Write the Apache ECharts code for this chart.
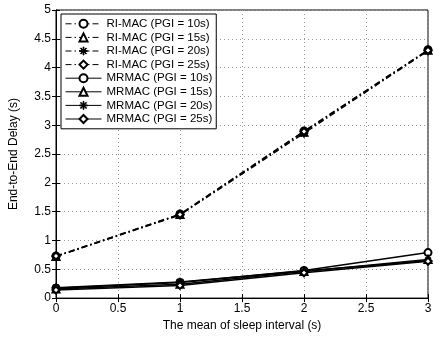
<!DOCTYPE html>
<html>
<head>
<meta charset="utf-8" />
<script src="https://cdn.jsdelivr.net/npm/echarts@6/dist/echarts.min.js"></script>
</head>
<body style="margin:0">
<div id="chart" style="width:441px;height:337px;"></div>
<script>
var sleepMean = [0, 1, 2, 3];
var names = [
  'RI-MAC (PGI = 10s)', 'RI-MAC (PGI = 15s)', 'RI-MAC (PGI = 20s)', 'RI-MAC (PGI = 25s)',
  'MRMAC (PGI = 10s)', 'MRMAC (PGI = 15s)', 'MRMAC (PGI = 20s)', 'MRMAC (PGI = 25s)'
];
var rimac10 = [0.73, 1.46, 2.90, 4.31];
var rimac15 = [0.72, 1.45, 2.88, 4.30];
var rimac20 = [0.72, 1.44, 2.86, 4.29];
var rimac25 = [0.73, 1.45, 2.89, 4.30];
var mrmac10 = [0.17, 0.27, 0.48, 0.79];
var mrmac15 = [0.16, 0.24, 0.46, 0.67];
var mrmac20 = [0.18, 0.28, 0.47, 0.65];
var mrmac25 = [0.14, 0.22, 0.44, 0.64];
var values = [rimac10, rimac15, rimac20, rimac25, mrmac10, mrmac15, mrmac20, mrmac25];

// asterisk marker made of thin bars
var star = 'path://M9,0 L11,0 L11,20 L9,20 Z M0,9 L20,9 L20,11 L0,11 Z M2.2,3.6 L3.6,2.2 L17.8,16.4 L16.4,17.8 Z M16.4,2.2 L17.8,3.6 L3.6,17.8 L2.2,16.4 Z';
var symbols = ['emptyCircle', 'emptyTriangle', star, 'emptyDiamond'];

var series = [];
for (var i = 0; i < values.length; i++) {
  var ri = i < 4;
  series.push({
    name: names[i],
    type: 'line',
    data: sleepMean.map(function (x, j) { return [x, values[i][j]]; }),
    symbol: symbols[i % 4],
    symbolSize: i % 4 === 2 ? 8 : 7,
    lineStyle: { color: '#000', width: ri ? 1.2 : 1.5, type: ri ? [6, 3, 1.5, 3] : 'solid' },
    itemStyle: { color: '#000', borderColor: '#000', borderWidth: 1 },
    animation: false
  });
}

var chart = echarts.init(document.getElementById('chart'));
var font = 'Liberation Sans, Arial, sans-serif';
var option = {
  backgroundColor: '#fff',
  grid: { left: 55, right: 13, top: 10, bottom: 34, show: true, borderColor: '#000', borderWidth: 1 },
  legend: {
    orient: 'vertical', left: 61, top: 14,
    backgroundColor: '#fff', borderColor: '#000', borderWidth: 1,
    padding: [3, 4, 3, 4], itemGap: 0, itemWidth: 36, itemHeight: 10,
    lineStyle: { width: 1 },
    itemStyle: { borderWidth: 1 },
    textStyle: { fontFamily: font, fontSize: 11.5, lineHeight: 13.6, color: '#000' },
    data: names
  },
  xAxis: [{
    type: 'value', min: 0, max: 3, interval: 0.5,
    name: 'The mean of sleep interval (s)', nameLocation: 'middle', nameGap: 20,
    nameTextStyle: { fontFamily: font, fontSize: 12, color: '#000' },
    axisLine: { lineStyle: { color: '#000' } },
    axisTick: { inside: true, length: 4, lineStyle: { color: '#000' } },
    axisLabel: { fontFamily: font, fontSize: 12, color: '#000', margin: 5 },
    splitLine: { lineStyle: { color: '#999', type: [1, 3] } }
  }, {
    type: 'value', min: 0, max: 3, interval: 0.5, position: 'top',
    axisLine: { lineStyle: { color: '#000' } },
    axisTick: { inside: true, length: 4, lineStyle: { color: '#000' } },
    axisLabel: { show: false }, splitLine: { show: false }
  }],
  yAxis: [{
    type: 'value', min: 0, max: 5, interval: 0.5,
    name: 'End-to-End Delay (s)', nameLocation: 'middle', nameGap: 36,
    nameTextStyle: { fontFamily: font, fontSize: 12, color: '#000' },
    axisLine: { show: true, lineStyle: { color: '#000' } },
    axisTick: { show: true, inside: true, length: 4, lineStyle: { color: '#000' } },
    axisLabel: { fontFamily: font, fontSize: 12, color: '#000', margin: 5 },
    splitLine: { lineStyle: { color: '#999', type: [1, 3] } }
  }, {
    type: 'value', min: 0, max: 5, interval: 0.5, position: 'right',
    axisLine: { show: true, lineStyle: { color: '#000' } },
    axisTick: { show: true, inside: true, length: 4, lineStyle: { color: '#000' } },
    axisLabel: { show: false }, splitLine: { show: false }
  }],
  series: series
};
chart.setOption(option);
</script>
</body>
</html>
